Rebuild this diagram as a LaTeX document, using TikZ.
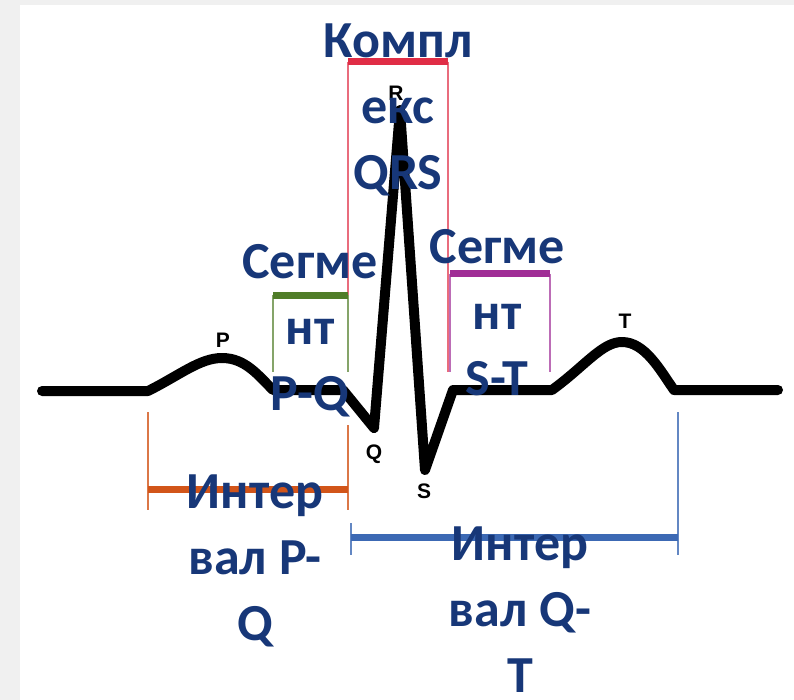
\documentclass[tikz,border=0pt]{standalone}
\usepackage{fontspec}
\newfontfamily\capfont{Carlito}
\newfontfamily\ecgfont{Liberation Sans}
\definecolor{txtblue}{RGB}{23,55,120}
\definecolor{qrsred}{RGB}{224,45,70}
\definecolor{pqgreen}{RGB}{80,125,40}
\definecolor{stpink}{RGB}{160,45,150}
\definecolor{pqorange}{RGB}{210,85,25}
\definecolor{qtblue}{RGB}{60,105,180}
\begin{document}
\begin{tikzpicture}[x=1pt,y=-1pt,
  wave/.style={line width=10pt,line cap=round,line join=round},
  bar/.style={line width=7pt},
  side/.style={line width=1.3pt},
  ttl/.style={font=\capfont\bfseries\fontsize{52}{66}\selectfont,text=txtblue,align=center,inner sep=0pt,anchor=base},
  pk/.style={font=\ecgfont\bfseries\fontsize{21}{22}\selectfont,inner sep=0pt}]
\fill[black!6] (0,0) rectangle (794,700);
\fill[white] (20,5) rectangle (794,700);
\useasboundingbox (0,0) rectangle (794,700);
% brackets
\draw[side,qrsred!70] (348,62) -- (348,372) (448,62) -- (448,372);
\draw[bar,qrsred] (348,62) -- (448,62);
\draw[side,pqgreen!70] (273,295) -- (273,372) (348,295) -- (348,372);
\draw[bar,pqgreen] (273,295) -- (348,295);
\draw[side,stpink!70] (450,274) -- (450,372) (550,274) -- (550,372);
\draw[bar,stpink] (450,274) -- (550,274);
\draw[side,pqorange!80] (148,412) -- (148,510) (348,425) -- (348,510);
\draw[bar,pqorange] (148,489) -- (348,489);
\draw[side,qtblue!80] (351,523) -- (351,555) (678,412) -- (678,555);
\draw[bar,qtblue] (351,537) -- (678,537);
% ecg
\draw[wave] (42,391) -- (148,391)
  .. controls (180,375) and (200,358) .. (222,358)
  .. controls (245,358) and (258,375) .. (273,390)
  -- (343,390) -- (374,428) -- (400,110) -- (425,470) -- (453,390)
  -- (552,390) .. controls (585,366) and (602,342) .. (622,342)
  .. controls (645,342) and (660,370) .. (674,390) -- (778,390);
\node[pk] (p) at (223,340) {P};
\node[pk] (r) at (396,93) {R};
\node[pk] (q) at (374,454) {Q};
\node[pk] (s) at (424,491) {S};
\node[pk] (t) at (625,321) {T};
% captions (anchored at the last line)
\node[ttl] (qrs) at (398,190) {Компл\\екс\\QRS};
\node[ttl] (seg1) at (310,410) {Сегме\\нт\\P-Q};
\node[ttl] (seg2) at (497,395) {Сегме\\нт\\S-T};
\node[ttl] (int1) at (255,640) {Интер\\вал P-\\Q};
\node[ttl] (int2) at (520,692) {Интер\\вал Q-\\T};
\end{tikzpicture}
\end{document}
